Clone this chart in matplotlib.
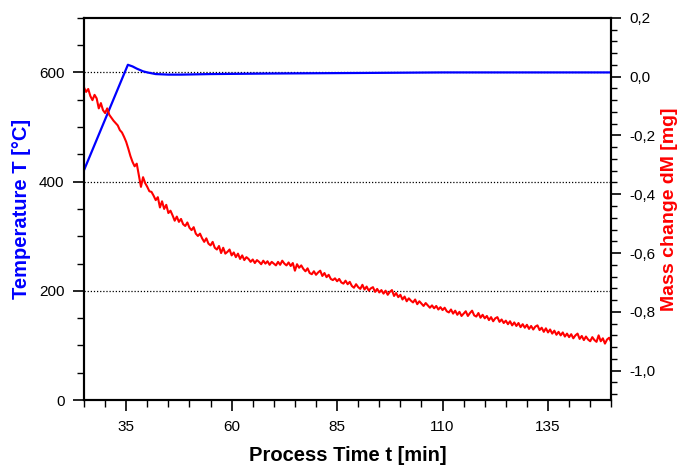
import numpy as np
import matplotlib.pyplot as plt
from matplotlib.ticker import MultipleLocator, FuncFormatter

plt.rcParams['font.family'] = ['Liberation Sans', 'DejaVu Sans']

# Temperatur (glatt)
temp_t = [25, 35.4, 36.5, 37.5, 39, 40, 42, 45, 48, 55, 69, 90, 110, 130, 150]
temp_T = [421, 614, 611, 607, 602, 600, 597, 596, 596, 597, 598, 599, 600, 600, 600]

# Massenänderung, 0.5 min Raster
mass_t = np.arange(25, 150.5, 0.5)
mass_dm = [
    -0.037, -0.052, -0.042, -0.066, -0.080, -0.062, -0.074, -0.108, -0.090, -0.114,
    -0.124, -0.108, -0.130, -0.140, -0.150, -0.158, -0.166, -0.182, -0.190, -0.205,
    -0.222, -0.245, -0.270, -0.290, -0.305, -0.296, -0.335, -0.375, -0.342, -0.362,
    -0.375, -0.390, -0.392, -0.405, -0.420, -0.410, -0.445, -0.424, -0.450, -0.436,
    -0.464, -0.456, -0.472, -0.490, -0.476, -0.494, -0.484, -0.502, -0.508, -0.496,
    -0.514, -0.522, -0.512, -0.534, -0.542, -0.534, -0.550, -0.562, -0.550, -0.568,
    -0.574, -0.562, -0.582, -0.588, -0.576, -0.600, -0.582, -0.602, -0.596, -0.588,
    -0.608, -0.598, -0.614, -0.602, -0.620, -0.608, -0.624, -0.614, -0.620, -0.630,
    -0.622, -0.634, -0.624, -0.630, -0.638, -0.626, -0.636, -0.628, -0.640, -0.630,
    -0.636, -0.642, -0.630, -0.640, -0.626, -0.636, -0.642, -0.632, -0.644, -0.634,
    -0.660, -0.638, -0.650, -0.642, -0.654, -0.662, -0.652, -0.668, -0.672, -0.662,
    -0.674, -0.666, -0.660, -0.678, -0.668, -0.682, -0.674, -0.688, -0.692, -0.686,
    -0.696, -0.688, -0.700, -0.704, -0.694, -0.706, -0.698, -0.712, -0.718, -0.706,
    -0.716, -0.722, -0.708, -0.724, -0.714, -0.728, -0.720, -0.716, -0.732, -0.722,
    -0.734, -0.726, -0.738, -0.728, -0.742, -0.732, -0.726, -0.746, -0.736, -0.750,
    -0.742, -0.758, -0.748, -0.764, -0.754, -0.762, -0.768, -0.758, -0.774, -0.764,
    -0.772, -0.780, -0.770, -0.778, -0.786, -0.778, -0.788, -0.780, -0.792, -0.784,
    -0.794, -0.786, -0.798, -0.802, -0.792, -0.806, -0.796, -0.810, -0.800, -0.814,
    -0.806, -0.798, -0.814, -0.804, -0.796, -0.812, -0.816, -0.804, -0.820, -0.810,
    -0.822, -0.814, -0.828, -0.818, -0.832, -0.822, -0.818, -0.834, -0.826, -0.838,
    -0.830, -0.842, -0.832, -0.846, -0.836, -0.848, -0.838, -0.852, -0.842, -0.854,
    -0.844, -0.858, -0.848, -0.860, -0.850, -0.846, -0.862, -0.854, -0.868, -0.856,
    -0.870, -0.860, -0.874, -0.864, -0.878, -0.868, -0.880, -0.870, -0.884, -0.874,
    -0.886, -0.876, -0.890, -0.880, -0.874, -0.892, -0.882, -0.896, -0.884, -0.894,
    -0.900, -0.886, -0.896, -0.902, -0.880, -0.900, -0.890, -0.908, -0.894, -0.888,
    -0.904,
]

fig = plt.figure(figsize=(6.83, 4.69), dpi=100)
ax = fig.add_axes([0.123, 0.147, 0.772, 0.815])
ax2 = ax.twinx()

# Hilfslinien
for y in [200, 400, 600]:
    ax.axhline(y, color='black', lw=0.9, ls=(0, (1, 1.5)), zorder=1)

ax.plot(temp_t, temp_T, color='#0000ff', lw=1.6, zorder=3)
ax2.plot(mass_t, mass_dm, color='#ff0000', lw=1.5)

ax.set_xlim(25, 150)
ax.set_ylim(0, 700)
ax2.set_ylim(-1.1, 0.2)

ax.set_xticks([35, 60, 85, 110, 135])
ax.xaxis.set_minor_locator(MultipleLocator(5))
ax.set_yticks([0, 200, 400, 600])
ax.yaxis.set_minor_locator(MultipleLocator(50))
ax2.set_yticks([0.2, 0.0, -0.2, -0.4, -0.6, -0.8, -1.0])
ax2.yaxis.set_minor_locator(MultipleLocator(0.04))
ax2.yaxis.set_major_formatter(FuncFormatter(lambda v, p: f'{v:.1f}'.replace('.', ',').replace('-0,0', '0,0')))

ax.tick_params(which='major', length=8, width=1.2, labelsize=11, pad=6)
ax.tick_params(which='minor', length=5, width=1.0)
ax2.tick_params(which='major', length=7, width=1.2, labelsize=11, pad=6)
ax2.tick_params(which='minor', length=4, width=1.0)

for a in (ax, ax2):
    for s in a.spines.values():
        s.set_linewidth(1.5)

ax.set_xlabel('Process Time t [min]', fontsize=14.5, fontweight='bold', labelpad=9)
ax.set_ylabel('Temperature T [°C]', fontsize=14.5, fontweight='bold', color='#0000ff', labelpad=6)
ax2.set_ylabel('Mass change dM [mg]', fontsize=14, fontweight='bold', color='#ff0000', labelpad=4)

fig.savefig('out.png', dpi=100)
